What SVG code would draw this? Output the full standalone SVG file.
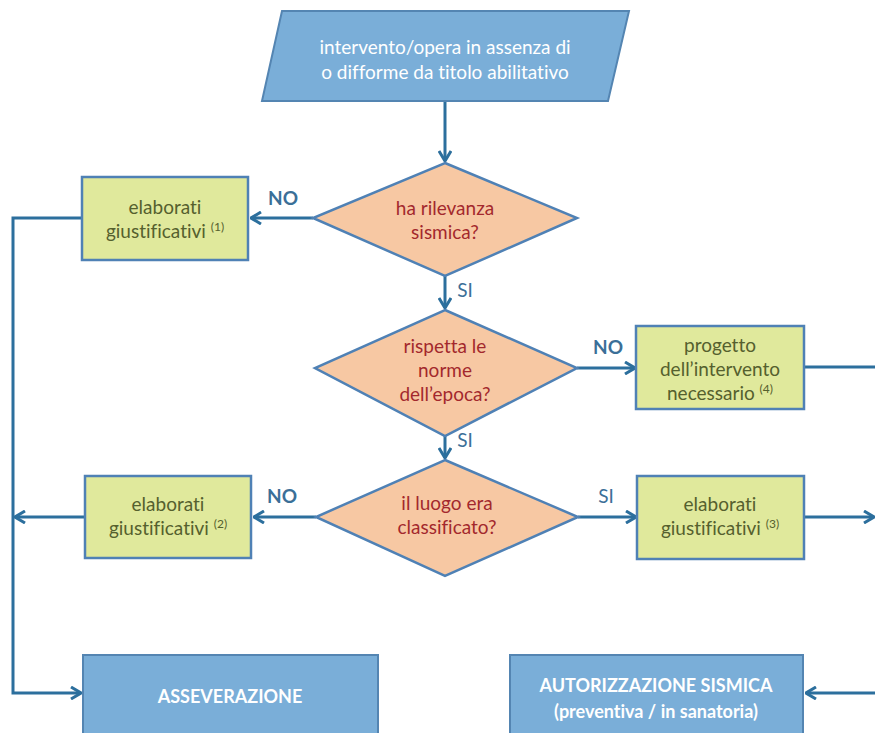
<svg xmlns="http://www.w3.org/2000/svg" width="875" height="733" viewBox="0 0 875 733">
<style>
.blue{fill:#7aaed8;stroke:#5485b2;stroke-width:2}
.green{fill:#e0e99c;stroke:#4f81b5;stroke-width:2.5}
.dia{fill:#f7c8a3;stroke:#4f81b5;stroke-width:2.5}
.con{fill:none;stroke:#2c6f9d;stroke-width:3}
text{font-family:Lato,"Open Sans","Liberation Sans",sans-serif;text-anchor:middle;font-variant-ligatures:none}
.tw{fill:#ffffff;font-size:19px}
.twb{fill:#ffffff;font-size:18px;font-weight:bold}
.tg{fill:#55602e;font-size:19px}
.tr{fill:#a3282d;font-size:19px}
.lab{fill:#3b6f98;font-size:19px;font-weight:bold}
.sup{font-size:12px}
</style>
<defs>
<marker id="ah" viewBox="0 0 12 14" refX="11" refY="7" markerWidth="12" markerHeight="14" markerUnits="userSpaceOnUse" orient="auto">
<path d="M1,1 L11,7 L1,13" fill="none" stroke="#2c6f9d" stroke-width="3"/>
</marker>
</defs>
<rect width="875" height="733" fill="#ffffff"/>
<g id="connectors">
<path class="con" d="M445,101 L445,161" marker-end="url(#ah)"/>
<path class="con" d="M313,218 L251,218" marker-end="url(#ah)"/>
<path class="con" d="M82,218 L13,218 L13,693 L81,693" marker-end="url(#ah)"/>
<path class="con" d="M445,276 L445,308" marker-end="url(#ah)"/>
<path class="con" d="M577,368 L635,368" marker-end="url(#ah)"/>
<path class="con" d="M804,367 L875,367"/>
<path class="con" d="M445,436 L445,458" marker-end="url(#ah)"/>
<path class="con" d="M316,517 L254,517" marker-end="url(#ah)"/>
<path class="con" d="M85,517 L15,517" marker-end="url(#ah)"/>
<path class="con" d="M578,517 L636,517" marker-end="url(#ah)"/>
<path class="con" d="M804,517 L874,517" marker-end="url(#ah)"/>
<path class="con" d="M875,693 L806,693" marker-end="url(#ah)"/>
<text class="lab" x="283" y="205">NO</text>
<text class="lab" x="465" y="297" style="font-weight:normal">SI</text>
<text class="lab" x="608" y="354">NO</text>
<text class="lab" x="465" y="447" style="font-weight:normal">SI</text>
<text class="lab" x="282" y="503">NO</text>
<text class="lab" x="606" y="503" style="font-weight:normal">SI</text>
</g>
<g id="start">
<polygon class="blue" points="282,11 629,11 608,101 262,101"/>
<text class="tw" x="445" y="54">intervento/opera  in assenza di</text>
<text class="tw" x="445" y="79">o difforme  da titolo abilitativo</text>
</g>
<g id="d1">
<polygon class="dia" points="445,163 577,218 445,276 313,218"/>
<text class="tr" x="445" y="215">ha rilevanza</text>
<text class="tr" x="445" y="239">sismica?</text>
</g>
<g id="b1">
<rect class="green" x="82" y="177" width="166" height="83"/>
<text class="tg" x="165" y="214">elaborati</text>
<text class="tg" x="165" y="238">giustificativi <tspan class="sup" dy="-7">(1)</tspan></text>
</g>
<g id="d2">
<polygon class="dia" points="445,310 577,368 445,436 315,368"/>
<text class="tr" x="445" y="353">rispetta le</text>
<text class="tr" x="445" y="377">norme</text>
<text class="tr" x="445" y="401">dell’epoca?</text>
</g>
<g id="b4">
<rect class="green" x="636" y="326" width="168" height="83"/>
<text class="tg" x="720" y="352">progetto</text>
<text class="tg" x="720" y="376">dell’intervento</text>
<text class="tg" x="720" y="400">necessario <tspan class="sup" dy="-7">(4)</tspan></text>
</g>
<g id="d3">
<polygon class="dia" points="445,460 578,517 445,576 316,517"/>
<text class="tr" x="447" y="510">il luogo era</text>
<text class="tr" x="447" y="534">classificato?</text>
</g>
<g id="b2">
<rect class="green" x="85" y="476" width="166" height="82"/>
<text class="tg" x="168" y="511">elaborati</text>
<text class="tg" x="168" y="535">giustificativi <tspan class="sup" dy="-7">(2)</tspan></text>
</g>
<g id="b3">
<rect class="green" x="637" y="476" width="167" height="83"/>
<text class="tg" x="720" y="511">elaborati</text>
<text class="tg" x="720" y="535">giustificativi <tspan class="sup" dy="-7">(3)</tspan></text>
</g>
<g id="asseverazione">
<rect class="blue" x="83" y="655" width="295" height="90"/>
<text class="twb" x="230" y="703">ASSEVERAZIONE</text>
</g>
<g id="autorizzazione">
<rect class="blue" x="510" y="655" width="293" height="90"/>
<text class="twb" x="656" y="692">AUTORIZZAZIONE SISMICA</text>
<text class="twb" x="656" y="718">(preventiva / in sanatoria)</text>
</g>
</svg>
